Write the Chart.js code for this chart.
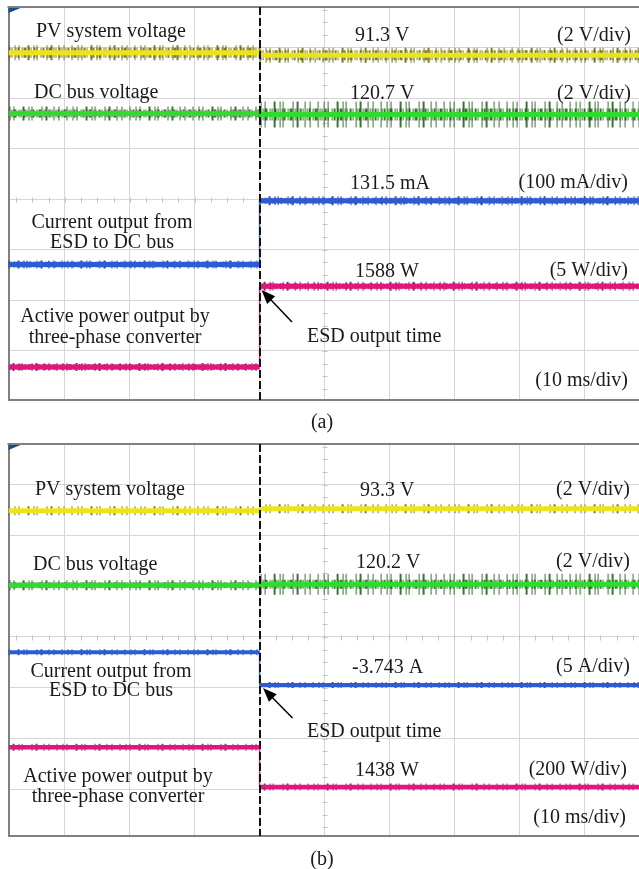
<!DOCTYPE html>
<html>
<head>
<meta charset="utf-8">
<script src="https://cdn.jsdelivr.net/npm/chart.js@4/dist/chart.umd.min.js"></script>
<style>
  html, body { margin: 0; padding: 0; background: #fff; overflow: hidden; }
  canvas { position: absolute; left: 0; }
  #scopeA { top: 0; }
  #scopeB { top: 437px; }
</style>
</head>
<body>
<canvas id="scopeA" width="639" height="437"></canvas>
<canvas id="scopeB" width="639" height="432"></canvas>
<script>
// ESD starts feeding the DC bus at 40 ms; every pair is [before, after]
const stepTimeMs = 40;
const timeGridMs = [10, 20, 30, 40, 50, 60, 70, 80, 90];
const divGrid = [-3, -2, -1, 0, 1, 2, 3];

// case (a)
const pvVoltageA = [91.4, 91.3];      // V
const dcVoltageA = [120.74, 120.7];   // V
const esdCurrentA = [5.6, 131.5];     // mA
const activePowerA = [1580, 1588];    // W

// case (b)
const pvVoltageB = [93.22, 93.3];     // V
const dcVoltageB = [120.16, 120.2];   // V
const esdCurrentB = [-0.5, -3.743];   // A
const activePowerB = [1595, 1438];    // W

// visible window of the screen (ms)
const T_MIN = 1.31, T_MAX = 98.46;

const FONT = '20px "Liberation Serif", "Times New Roman", serif';
// irregular dash patterns give the grassy look of the sampled noise
const SPARSE = [1, 5, 1, 3, 1, 8, 2, 4, 1, 2, 1, 9, 1, 3, 2, 6, 1, 4, 1, 7];
const DENSE = [2, 1, 1, 3, 1, 1, 2, 2, 1, 1, 3, 2, 1, 1, 1, 2];

const YELLOW = { core: '#ece41a', dark: 'rgba(105,100,0,0.85)' };
const GREEN = { core: '#2edb2e', dark: 'rgba(25,90,15,0.85)' };
const BLUE = { core: '#2d5bd3', dark: 'rgba(25,45,130,0.85)' };
const MAGENTA = { core: '#e0157d', dark: 'rgba(120,20,70,0.85)' };

function channelSets(values, axis, color, width, noise, shift) {
  const before = values[0], after = values[1];
  const left = [{x: T_MIN, y: before}, {x: stepTimeMs, y: before}];
  const right = [{x: stepTimeMs, y: after}, {x: T_MAX, y: after}];
  const sets = [];
  [[left, noise[0]], [right, noise[1]]].forEach(function (seg) {
    if (seg[1][1]) sets.push({data: seg[0], yAxisID: axis, borderColor: color.dark, borderWidth: seg[1][1],
      borderDash: SPARSE, borderDashOffset: shift, order: 3});
    if (seg[1][0]) sets.push({data: seg[0], yAxisID: axis, borderColor: color.dark, borderWidth: seg[1][0],
      borderDash: DENSE, borderDashOffset: shift * 2, order: 2});
  });
  sets.push({data: left, yAxisID: axis, borderColor: color.core, borderWidth: width, order: 1});
  sets.push({data: right, yAxisID: axis, borderColor: color.core, borderWidth: width, order: 1});
  sets.push({data: [{x: stepTimeMs, y: before}, {x: stepTimeMs, y: after}], yAxisID: axis,
    borderColor: color.core, borderWidth: 1.5, order: 1});
  return sets;
}

// hidden per-channel axis: units/div and the value on the centre line
function channelAxis(perDiv, centre, divMin, divMax) {
  return { type: 'linear', display: false, min: centre + divMin * perDiv, max: centre + divMax * perDiv };
}

function drawArrow(ctx, x1, y1, x2, y2) {
  const ang = Math.atan2(y2 - y1, x2 - x1);
  ctx.save();
  ctx.strokeStyle = '#000';
  ctx.fillStyle = '#000';
  ctx.lineWidth = 1.5;
  ctx.beginPath();
  ctx.moveTo(x1, y1);
  ctx.lineTo(x2 - 8 * Math.cos(ang), y2 - 8 * Math.sin(ang));
  ctx.stroke();
  ctx.beginPath();
  ctx.moveTo(x2, y2);
  ctx.lineTo(x2 - 14 * Math.cos(ang) + 5.5 * Math.sin(ang), y2 - 14 * Math.sin(ang) - 5.5 * Math.cos(ang));
  ctx.lineTo(x2 - 14 * Math.cos(ang) - 5.5 * Math.sin(ang), y2 - 14 * Math.sin(ang) + 5.5 * Math.cos(ang));
  ctx.closePath();
  ctx.fill();
  ctx.restore();
}

const scopeScreen = {
  id: 'scopeScreen',
  beforeDatasetsDraw(chart) {
    const ctx = chart.ctx, a = chart.chartArea;
    const x = chart.scales.x, y = chart.scales.y;
    ctx.save();
    // top edge of the screen
    ctx.strokeStyle = '#808080';
    ctx.lineWidth = 2;
    ctx.beginPath();
    ctx.moveTo(a.left - 1, a.top);
    ctx.lineTo(a.right, a.top);
    ctx.stroke();
    // minor ticks on the centre axes
    ctx.strokeStyle = '#c4c4c4';
    ctx.lineWidth = 1;
    const y0 = Math.round(y.getPixelForValue(0)) + 0.5;
    const x0 = Math.round(x.getPixelForValue(50)) + 0.5;
    ctx.beginPath();
    for (let t = 0; t <= 100; t += 2.5) {
      const px = Math.round(x.getPixelForValue(t)) + 0.5;
      if (px < a.left || px > a.right) continue;
      ctx.moveTo(px, y0 - 2); ctx.lineTo(px, y0 + 3);
    }
    for (let d = -4; d <= 4; d += 0.25) {
      const py = Math.round(y.getPixelForValue(d)) + 0.5;
      if (py < a.top || py > a.bottom) continue;
      ctx.moveTo(x0 - 2, py); ctx.lineTo(x0 + 3, py);
    }
    ctx.stroke();
    // trigger marker in the corner
    ctx.fillStyle = '#1c4b8a';
    ctx.beginPath();
    ctx.moveTo(a.left, a.top + 1);
    ctx.lineTo(a.left + 12, a.top + 1);
    ctx.lineTo(a.left, a.top + 6);
    ctx.closePath();
    ctx.fill();
    ctx.restore();
  },
  afterDatasetsDraw(chart, args, opts) {
    const ctx = chart.ctx, a = chart.chartArea;
    const px = Math.round(chart.scales.x.getPixelForValue(stepTimeMs));
    ctx.save();
    ctx.strokeStyle = '#111';
    ctx.lineWidth = 2;
    ctx.setLineDash([8, 3]);
    ctx.beginPath();
    ctx.moveTo(px, a.top);
    ctx.lineTo(px, a.bottom);
    ctx.stroke();
    ctx.setLineDash([]);
    drawArrow(ctx, opts.arrow[0], opts.arrow[1], opts.arrow[2], opts.arrow[3]);
    ctx.font = FONT;
    ctx.fillStyle = '#1a1a1a';
    ctx.textBaseline = 'alphabetic';
    opts.labels.forEach(function (l) {
      ctx.textAlign = l[3] || 'left';
      ctx.fillText(l[0], l[1], l[2]);
    });
    ctx.restore();
  }
};

function makeScope(id, divMin, divMax, padBottom, channels, labels, arrow) {
  const scales = {
    x: {
      type: 'linear', min: T_MIN, max: T_MAX,
      afterBuildTicks: function (s) { s.ticks = timeGridMs.map(function (v) { return {value: v}; }); },
      ticks: { display: false },
      grid: { color: '#d6d6d6', lineWidth: 1, drawTicks: false },
      border: { display: true, color: '#808080', width: 2 }
    },
    y: {
      type: 'linear', min: divMin, max: divMax,
      afterBuildTicks: function (s) { s.ticks = divGrid.map(function (v) { return {value: v}; }); },
      ticks: { display: false },
      grid: { color: '#d6d6d6', lineWidth: 1, drawTicks: false },
      border: { display: true, color: '#808080', width: 2 }
    }
  };
  let datasets = [];
  channels.forEach(function (c, i) {
    const axis = 'ch' + i;
    scales[axis] = channelAxis(c.perDiv, c.centre, divMin, divMax);
    datasets = datasets.concat(channelSets(c.values, axis, c.color, c.width, c.noise, i * 5));
  });
  return new Chart(document.getElementById(id), {
    type: 'line',
    data: { datasets: datasets },
    options: {
      responsive: false,
      animation: false,
      layout: { padding: { left: 8.5, top: 7, right: 0, bottom: padBottom } },
      elements: { point: { radius: 0 }, line: { tension: 0, borderCapStyle: 'butt' } },
      plugins: {
        legend: { display: false },
        tooltip: { enabled: false },
        scopeScreen: { labels: labels, arrow: arrow }
      },
      scales: scales
    },
    plugins: [scopeScreen]
  });
}

makeScope('scopeA', -3.97, 3.80, 37, [
  { values: pvVoltageA, perDiv: 2, centre: 85.61, color: YELLOW, width: 5, noise: [[10, 15], [10, 15]] },
  { values: dcVoltageA, perDiv: 2, centre: 117.35, color: GREEN, width: 5, noise: [[8, 14], [12, 26]] },
  { values: esdCurrentA, perDiv: 100, centre: 134.5, color: BLUE, width: 5, noise: [[6, 8], [6, 9]] },
  { values: activePowerA, perDiv: 5, centre: 1596.6, color: MAGENTA, width: 5, noise: [[6, 8], [6, 9]] }
], [
  ['PV system voltage', 36, 36.5],
  [pvVoltageA[1] + ' V', 355, 41],
  ['(2 V/div)', 631, 41, 'right'],
  ['DC bus voltage', 34, 97.5],
  [dcVoltageA[1] + ' V', 350, 98.5],
  ['(2 V/div)', 631, 98.5, 'right'],
  [esdCurrentA[1] + ' mA', 350, 188.5],
  ['(100 mA/div)', 628, 188, 'right'],
  ['Current output from', 112, 228, 'center'],
  ['ESD to DC bus', 112, 248, 'center'],
  [activePowerA[1] + ' W', 355, 276.5],
  ['(5 W/div)', 628, 276, 'right'],
  ['Active power output by', 115, 321.5, 'center'],
  ['three-phase converter', 115, 342.5, 'center'],
  ['ESD output time', 307, 341.5],
  ['(10 ms/div)', 628, 386, 'right'],
  ['(a)', 322, 428, 'center']
], [292, 322, 261.5, 290]);

makeScope('scopeB', -3.92, 3.80, 33, [
  { values: pvVoltageB, perDiv: 2, centre: 88.25, color: YELLOW, width: 5, noise: [[0, 9], [0, 9]] },
  { values: dcVoltageB, perDiv: 2, centre: 118.12, color: GREEN, width: 5, noise: [[6, 10], [9, 21]] },
  { values: esdCurrentB, perDiv: 5, centre: 1.0, color: BLUE, width: 4, noise: [[0, 6], [0, 6]] },
  { values: activePowerB, perDiv: 200, centre: 2029, color: MAGENTA, width: 4.5, noise: [[0, 7], [0, 7]] }
], [
  ['PV system voltage', 35, 58],
  [pvVoltageB[1] + ' V', 360, 59],
  ['(2 V/div)', 630, 58, 'right'],
  ['DC bus voltage', 33, 133],
  [dcVoltageB[1] + ' V', 356, 131],
  ['(2 V/div)', 630, 130, 'right'],
  ['Current output from', 111, 239.5, 'center'],
  ['ESD to DC bus', 111, 259, 'center'],
  [esdCurrentB[1] + ' A', 352, 236],
  ['(5 A/div)', 630, 235, 'right'],
  ['ESD output time', 307, 300],
  [activePowerB[1] + ' W', 355, 339],
  ['(200 W/div)', 627, 338, 'right'],
  ['Active power output by', 118, 344.5, 'center'],
  ['three-phase converter', 118, 364.5, 'center'],
  ['(10 ms/div)', 626, 386, 'right'],
  ['(b)', 322, 428, 'center']
], [292.5, 281, 263, 251]);
</script>
</body>
</html>
